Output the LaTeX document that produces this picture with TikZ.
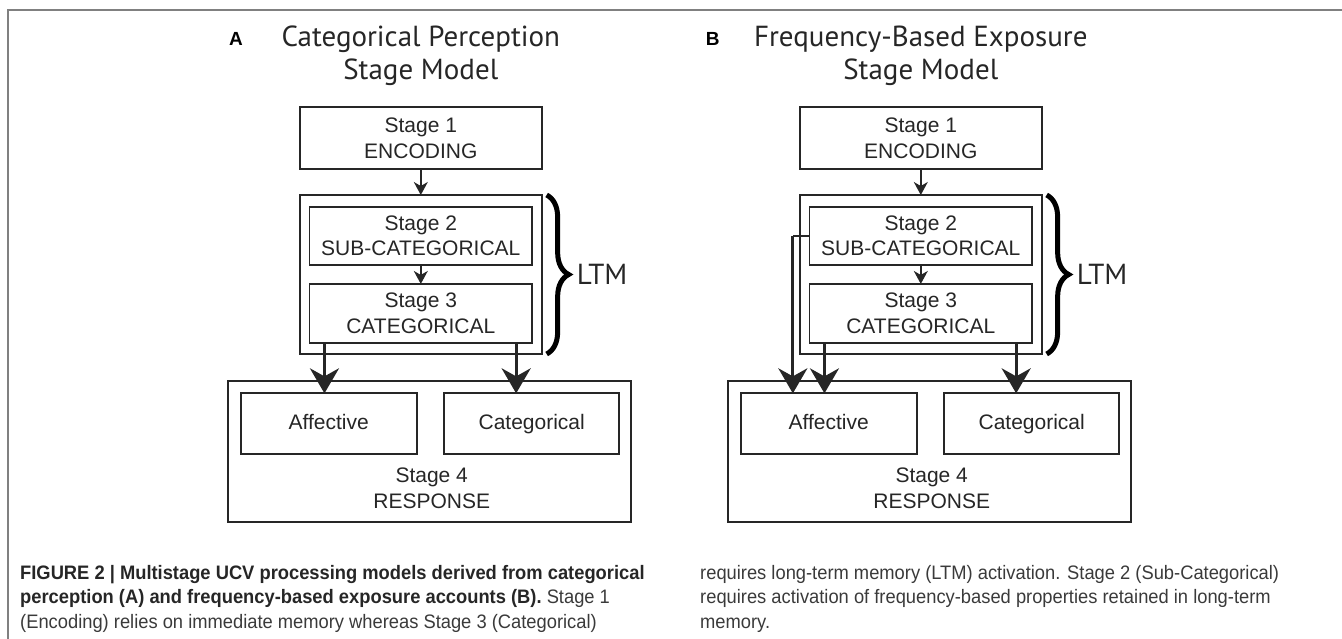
\documentclass[tikz,border=0pt]{standalone}
\usepackage{fontspec}
\setmainfont{Liberation Sans}
\newfontfamily\titlefont{PT Sans}
\newfontfamily\capfont[FakeStretch=0.94]{Liberation Sans}
\usetikzlibrary{arrows.meta,decorations.pathreplacing,calc}
\definecolor{ink}{HTML}{262626}
\definecolor{framegray}{HTML}{808080}
\definecolor{captxt}{HTML}{3A3A3A}
\tikzset{
 box/.style={draw=ink,line width=1.8pt,inner sep=0pt,outer sep=0pt},
 boxtext/.style={font=\fontsize{21}{25.7}\selectfont,align=center,text=ink},
 onetext/.style={text height=15.2pt,text depth=4.4pt},
 smallarrow/.style={draw=ink,line width=1.6pt,-{Stealth[length=13pt,width=14pt,inset=4pt]}},
 bigarrow/.style={draw=ink,line width=3pt,-{Stealth[length=25pt,width=29pt,inset=8pt]}},
 bigline/.style={draw=ink,line width=2.4pt},
 ltmbrace/.style={draw=black,line width=5pt,decorate,decoration={brace,amplitude=22pt}},
 titletext/.style={font=\titlefont\fontsize{29}{33}\selectfont,text=ink,inner sep=0pt,anchor=base},
 panelletter/.style={font=\bfseries\fontsize{19}{21}\selectfont,text=black,inner sep=0pt,anchor=base},
 captext/.style={font=\capfont\fontsize{19.5}{24}\selectfont,text=captxt,inner sep=0pt,anchor=base west},
}
\newcommand{\drawpanel}[1]{%
 \node[titletext] (t1) at (420.8,47) {#1};
 \node[titletext] (t2) at (420.8,80) {Stage Model};
 \node[box,boxtext,minimum width=241.7,minimum height=62.6] (s1) at (420.8,138) {Stage 1\\ENCODING};
 \node[box,minimum width=241.7,minimum height=159] (ltm) at (420.8,274.5) {};
 \node[box,boxtext,minimum width=222.7,minimum height=58.3] (s2) at (420.8,235.8) {Stage 2\\SUB-CATEGORICAL};
 \node[box,boxtext,minimum width=222.7,minimum height=58.7] (s3) at (420.8,313.3) {Stage 3\\CATEGORICAL};
 \node[box,minimum width=403,minimum height=141] (s4) at (429.2,451.5) {};
 \node[box,boxtext,onetext,minimum width=176,minimum height=60.7] (aff) at (328.7,423.7) {Affective};
 \node[box,boxtext,onetext,minimum width=175.3,minimum height=60.7] (cat) at (531.7,423.7) {Categorical};
 \node[boxtext] (s4lbl) at ($(s4.south)+(2.5,-34)$) {Stage 4\\RESPONSE};
 \draw[smallarrow] (s1.south) -- (ltm.north);
 \draw[smallarrow] (s2.south) -- (s3.north);
 \coordinate (pa) at ($(s3.south west)+(15,0)$);
 \coordinate (pb) at ($(s3.south east)+(-16,0)$);
 \draw[bigarrow] (pa) -- (pa |- aff.north);
 \draw[bigarrow] (pb) -- (pb |- cat.north);
 \draw[ltmbrace] ($(ltm.north east)+(5,0)$) -- ($(ltm.south east)+(5,0)$);
 \node[titletext,anchor=west] (ltmlbl) at ($(ltm.east)+(35,0)$) {LTM};
}
\begin{document}
\begin{tikzpicture}[x=1pt,y=-1pt]
\useasboundingbox (0,0) rectangle (1342,639);
\draw[framegray,line width=2pt] (8,639) -- (8,10) -- (1342,10);
\begin{scope}[name prefix=A-]
 \drawpanel{Categorical Perception}
\end{scope}
\begin{scope}[xshift=500,name prefix=B-]
 \drawpanel{Frequency-Based Exposure}
 \coordinate (k) at ($(s2.west)+(-16.6,0)$);
 \draw[bigline] (s2.west) -- (k);
 \draw[bigarrow] (k) -- (k |- aff.north);
\end{scope}
\node[panelletter] (la) at (236,46) {A};
\node[panelletter] (lb) at (712.7,46) {B};
\node[captext] (c1) at (20,579) {{\bfseries\color{ink}FIGURE 2 | Multistage UCV processing models derived from categorical}};
\node[captext] (c2) at (20,603.5) {{\bfseries\color{ink}perception (A) and frequency-based exposure accounts (B).} Stage 1};
\node[captext] (c3) at (20,628) {(Encoding) relies on immediate memory whereas Stage 3 (Categorical)};
\node[captext] (d1) at (700,579) {requires long-term memory (LTM) activation. Stage 2 (Sub-Categorical)};
\node[captext] (d2) at (700,603.5) {requires activation of frequency-based properties retained in long-term};
\node[captext] (d3) at (700,628) {memory.};
\end{tikzpicture}
\end{document}
